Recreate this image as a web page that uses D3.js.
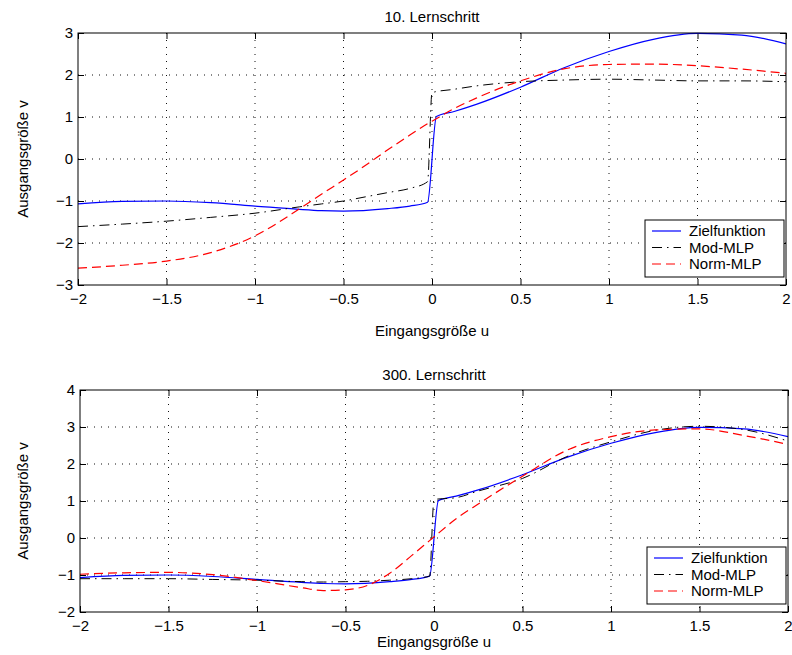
<!DOCTYPE html>
<html>
<head>
<meta charset="utf-8">
<script src="https://cdn.jsdelivr.net/npm/d3@7/dist/d3.min.js"></script>
<style>
  html, body { margin: 0; padding: 0; background: #fff; }
  svg text { font-family: "Liberation Sans", Arial, Helvetica, sans-serif; fill: #000; }
</style>
</head>
<body>
<svg id="chart" width="792" height="655"></svg>
<script>
// Input samples u and the target function (Zielfunktion)
const uTarget = [-2, -1.75, -1.5, -1.25, -1, -0.75, -0.625, -0.5, -0.25, -0.125, -0.025,
                 0.025, 0.125, 0.25, 0.5, 0.75, 1, 1.25, 1.5, 1.75, 2];
const vTarget = [-1.07, -1.01, -1.0, -1.04, -1.12, -1.2, -1.23, -1.24, -1.18, -1.12, -1.03,
                 1.01, 1.13, 1.3, 1.71, 2.18, 2.56, 2.85, 2.99, 2.95, 2.74];

// Input samples of the trained networks
const uNet = [-2, -1.75, -1.5, -1.25, -1, -0.75, -0.625, -0.5, -0.375, -0.25, -0.125, -0.025,
              0, 0.125, 0.25, 0.5, 0.75, 1, 1.25, 1.5, 1.75, 2];

// Network outputs after 10 learning steps
const mod10  = [-1.61, -1.55, -1.48, -1.39, -1.29, -1.14, -1.07, -1.0, -0.9, -0.8, -0.7, -0.54,
                1.58, 1.66, 1.74, 1.84, 1.88, 1.9, 1.88, 1.86, 1.86, 1.84];
const norm10 = [-2.6, -2.53, -2.43, -2.23, -1.83, -1.19, -0.84, -0.5, -0.15, 0.22, 0.57, 0.84,
                0.9, 1.2, 1.45, 1.86, 2.15, 2.25, 2.26, 2.22, 2.14, 2.04];

// Network outputs after 300 learning steps
const mod300  = [-1.1, -1.1, -1.1, -1.12, -1.14, -1.18, -1.19, -1.18, -1.17, -1.14, -1.1, -1.03,
                 1.04, 1.09, 1.27, 1.61, 2.2, 2.6, 2.91, 3.02, 2.93, 2.62];
const norm300 = [-0.98, -0.94, -0.93, -0.99, -1.15, -1.34, -1.42, -1.4, -1.28, -0.95, -0.47, -0.07,
                 0.03, 0.52, 0.92, 1.67, 2.37, 2.74, 2.92, 2.95, 2.77, 2.53];

// Axis ticks and texts
const xTicks = [-2, -1.5, -1, -0.5, 0, 0.5, 1, 1.5, 2];
const yTicks10 = [-3, -2, -1, 0, 1, 2, 3];
const yTicks300 = [-2, -1, 0, 1, 2, 3, 4];
const titles = ["10. Lernschritt", "300. Lernschritt"];
const xLabel = "Eingangsgröße u";
const yLabel = "Ausgangsgröße v";
const seriesNames = ["Zielfunktion", "Mod-MLP", "Norm-MLP"];

const styles = [
  { color: "#0000ff", dash: null, width: 1.2 },
  { color: "#000000", dash: "10,5,1.5,5", width: 1 },
  { color: "#ff0000", dash: "9,5", width: 1.2 }
];

const svg = d3.select("#chart");
const fmt = d3.format("");   // uses the typographic minus sign

const panels = [
  { title: titles[0], l: 78, r: 786, t: 33, b: 285, yTicks: yTicks10,
    series: [[uTarget, vTarget], [uNet, mod10], [uNet, norm10]],
    titleY: 22, xLabelY: 336 },
  { title: titles[1], l: 80, r: 788, t: 390, b: 612, yTicks: yTicks300,
    series: [[uTarget, vTarget], [uNet, mod300], [uNet, norm300]],
    titleY: 380, xLabelY: 647 }
];

panels.forEach((p, pi) => {
  const x = d3.scaleLinear().domain([-2, 2]).range([p.l, p.r]);
  const y = d3.scaleLinear().domain(d3.extent(p.yTicks)).range([p.b, p.t]);
  const g = svg.append("g");

  // dotted grid
  const grid = g.append("g").attr("stroke", "#111").attr("stroke-width", 1)
    .attr("stroke-dasharray", "1,6");
  xTicks.slice(1, -1).forEach(v => {
    grid.append("line").attr("x1", x(v)).attr("x2", x(v)).attr("y1", p.t).attr("y2", p.b);
  });
  p.yTicks.slice(1, -1).forEach(v => {
    grid.append("line").attr("x1", p.l).attr("x2", p.r).attr("y1", y(v)).attr("y2", y(v));
  });

  // axes with inward ticks on all four sides
  const styleAxis = sel => {
    sel.select(".domain").remove();
    sel.selectAll(".tick line").attr("stroke", "#000");
    sel.selectAll("text").style("font-size", "15px")
      .style("font-family", "'Liberation Sans', Arial, Helvetica, sans-serif");
  };
  g.append("g").attr("transform", `translate(0,${p.b})`)
    .call(d3.axisBottom(x).tickValues(xTicks).tickFormat(fmt).tickSizeInner(-6).tickSizeOuter(0).tickPadding(8))
    .call(styleAxis);
  g.append("g").attr("transform", `translate(0,${p.t})`)
    .call(d3.axisTop(x).tickValues(xTicks).tickFormat("").tickSizeInner(-6).tickSizeOuter(0))
    .call(styleAxis);
  g.append("g").attr("transform", `translate(${p.l},0)`)
    .call(d3.axisLeft(y).tickValues(p.yTicks).tickFormat(fmt).tickSizeInner(-6).tickSizeOuter(0).tickPadding(5))
    .call(styleAxis);
  g.append("g").attr("transform", `translate(${p.r},0)`)
    .call(d3.axisRight(y).tickValues(p.yTicks).tickFormat("").tickSizeInner(-6).tickSizeOuter(0))
    .call(styleAxis);

  // curves
  const clipId = "clip" + pi;
  svg.append("clipPath").attr("id", clipId).append("rect")
    .attr("x", p.l).attr("y", p.t - 1).attr("width", p.r - p.l).attr("height", p.b - p.t + 2);
  const line = d3.line().x(d => x(d[0])).y(d => y(d[1])).curve(d3.curveMonotoneX);
  const curves = g.append("g").attr("clip-path", `url(#${clipId})`);
  p.series.forEach(([us, vs], si) => {
    const st = styles[si];
    curves.append("path")
      .datum(us.map((u, i) => [u, vs[i]]))
      .attr("d", line)
      .attr("fill", "none")
      .attr("stroke", st.color)
      .attr("stroke-width", st.width)
      .attr("stroke-dasharray", st.dash);
  });

  // frame
  g.append("rect").attr("x", p.l).attr("y", p.t).attr("width", p.r - p.l).attr("height", p.b - p.t)
    .attr("fill", "none").attr("stroke", "#000").attr("stroke-width", 1);

  // title and axis labels
  g.append("text").attr("x", (p.l + p.r) / 2).attr("y", p.titleY)
    .attr("text-anchor", "middle").style("font-size", "15px").text(p.title);
  g.append("text").attr("x", (p.l + p.r) / 2).attr("y", p.xLabelY)
    .attr("text-anchor", "middle").style("font-size", "15px").text(xLabel);
  g.append("text")
    .attr("transform", `translate(28,${(p.t + p.b) / 2}) rotate(-90)`)
    .attr("text-anchor", "middle").style("font-size", "15px").text(yLabel);

  // legend
  const lw = 139, lh = 57;
  const lx = p.r - 141, ly = p.b - 65;
  const lg = g.append("g").attr("transform", `translate(${lx},${ly})`);
  lg.append("rect").attr("width", lw).attr("height", lh)
    .attr("fill", "#fff").attr("stroke", "#000").attr("stroke-width", 1);
  seriesNames.forEach((name, i) => {
    const st = styles[i];
    const cy = 11 + i * 16.5;
    lg.append("line").attr("x1", 7).attr("x2", 36).attr("y1", cy).attr("y2", cy)
      .attr("stroke", st.color).attr("stroke-width", st.width)
      .attr("stroke-dasharray", st.dash);
    lg.append("text").attr("x", 44).attr("y", cy).attr("dy", "0.35em")
      .style("font-size", "15px").text(name);
  });
});
</script>
</body>
</html>
